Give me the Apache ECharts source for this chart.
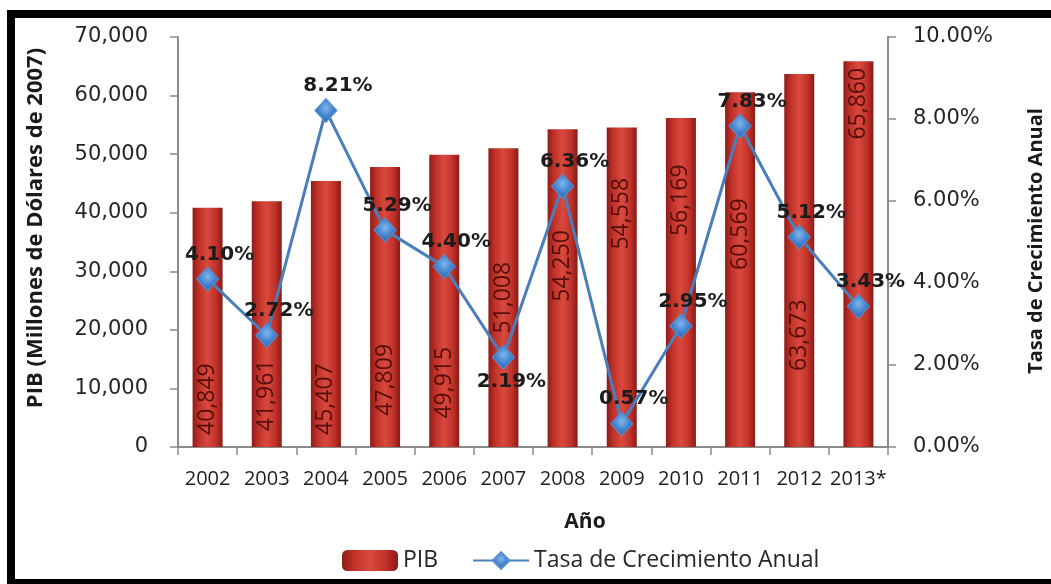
<!DOCTYPE html>
<html>
<head>
<meta charset="utf-8">
<script src="https://cdn.jsdelivr.net/npm/echarts@6/dist/echarts.min.js"></script>
<style>
  html, body { margin: 0; padding: 0; background: #ffffff; }
  #chart { width: 1051px; height: 584px; }
</style>
</head>
<body>
<div id="chart"></div>
<script>
// Años del periodo
const years = ['2002', '2003', '2004', '2005', '2006', '2007', '2008', '2009', '2010', '2011', '2012', '2013*'];
// PIB en millones de dólares de 2007
const pib = [40849, 41961, 45407, 47809, 49915, 51008, 54250, 54558, 56169, 60569, 63673, 65860];
// Tasa de crecimiento anual (%)
const growth = [4.10, 2.72, 8.21, 5.29, 4.40, 2.19, 6.36, 0.57, 2.95, 7.83, 5.12, 3.43];

// Layout: where each PIB label sits inside its bar (% of bar height, from the top)
const pibLabelAnchor = [80, 79, 82, 76, 78, 50, 43, 27, 25, 40, 70, 11];
// Years whose growth label goes under the marker
const growthLabelBelow = ['2007'];

const fmtThousands = v => String(Math.round(v)).replace(/\B(?=(\d{3})+(?!\d))/g, ',');
const fmtPct = v => Number(v).toFixed(2) + '%';

const axisGray = '#8a8a8a';

const barFill = new echarts.graphic.LinearGradient(0, 0, 1, 0, [
  { offset: 0, color: '#8e1c17' },
  { offset: 0.22, color: '#c0322a' },
  { offset: 0.5, color: '#d9493d' },
  { offset: 0.78, color: '#c0322a' },
  { offset: 1, color: '#8a1a15' }
]);

const markerFill = new echarts.graphic.RadialGradient(0.5, 0.4, 0.6, [
  { offset: 0, color: '#7fb6ee' },
  { offset: 0.6, color: '#3f7fcb' },
  { offset: 1, color: '#2d64a8' }
]);

const chart = echarts.init(document.getElementById('chart'), null, { renderer: 'canvas' });

chart.setOption({
  animation: false,
  backgroundColor: '#ffffff',
  grid: { left: 178, right: 163, top: 37, bottom: 137, containLabel: false },
  legend: {
    left: 342,
    top: 549,
    padding: 0,
    itemWidth: 56,
    itemHeight: 21,
    itemGap: 34,
    textStyle: { fontFamily: 'Open Sans', fontSize: 23, color: '#262626' },
    data: ['PIB', 'Tasa de Crecimiento Anual']
  },
  xAxis: {
    type: 'category',
    data: years,
    axisLine: { lineStyle: { color: axisGray, width: 2 } },
    axisTick: { show: true, length: 8, lineStyle: { color: axisGray, width: 1.5 } },
    axisLabel: { margin: 22, fontFamily: 'Open Sans', fontSize: 20, color: '#1f1f1f', interval: 0 },
    splitLine: { show: false }
  },
  yAxis: [
    {
      type: 'value',
      min: 0,
      max: 70000,
      interval: 10000,
      position: 'left',
      axisLine: { show: true, lineStyle: { color: axisGray, width: 2 } },
      axisTick: { show: true, length: 8, lineStyle: { color: axisGray, width: 1.5 } },
      axisLabel: { margin: 30, fontFamily: 'DejaVu Sans', fontSize: 21, color: '#262626', formatter: fmtThousands },
      splitLine: { show: false }
    },
    {
      type: 'value',
      min: 0,
      max: 10,
      interval: 2,
      position: 'right',
      axisLine: { show: true, lineStyle: { color: axisGray, width: 2 } },
      axisTick: { show: true, length: 8, lineStyle: { color: axisGray, width: 1.5 } },
      axisLabel: { margin: 25, fontFamily: 'DejaVu Sans', fontSize: 21, color: '#262626', formatter: fmtPct },
      splitLine: { show: false }
    }
  ],
  series: [
    {
      name: 'PIB',
      type: 'bar',
      yAxisIndex: 0,
      barWidth: 30,
      z: 2,
      itemStyle: { color: barFill },
      label: {
        show: true,
        rotate: 90,
        align: 'center',
        verticalAlign: 'middle',
        fontFamily: 'Open Sans',
        fontWeight: 500,
        fontSize: 23,
        color: '#560e0b',
        formatter: p => fmtThousands(p.value)
      },
      data: pib.map((v, i) => ({
        value: v,
        label: { position: ['50%', pibLabelAnchor[i] + '%'] }
      }))
    },
    {
      name: 'Tasa de Crecimiento Anual',
      type: 'line',
      yAxisIndex: 1,
      z: 3,
      symbol: 'diamond',
      symbolSize: [22, 24],
      lineStyle: { color: '#4a7ebb', width: 3 },
      itemStyle: { color: markerFill, borderColor: '#5b8fd0', borderWidth: 1 },
      label: {
        show: true,
        position: 'top',
        distance: 2,
        offset: [12, 0],
        fontFamily: 'DejaVu Sans',
        fontWeight: 'bold',
        fontSize: 20,
        color: '#1c1c1c',
        formatter: p => fmtPct(p.value)
      },
      data: growth.map((v, i) => growthLabelBelow.includes(years[i])
        ? { value: v, label: { position: 'bottom', offset: [8, 0] } }
        : v)
    }
  ],
  graphic: [
    // black frame: top, left and bottom edges
    { type: 'rect', shape: { x: 7, y: 10, width: 1044, height: 8 }, style: { fill: '#000000' }, silent: true },
    { type: 'rect', shape: { x: 7, y: 10, width: 8, height: 574 }, style: { fill: '#000000' }, silent: true },
    { type: 'rect', shape: { x: 7, y: 579, width: 1044, height: 5 }, style: { fill: '#000000' }, silent: true },
    // axis titles
    {
      type: 'text', x: 36, y: 228, rotation: Math.PI / 2,
      style: { text: 'PIB (Millones de Dólares de 2007)', fontFamily: 'Open Sans', fontWeight: 'bold', fontSize: 22, fill: '#1a1a1a', align: 'center', verticalAlign: 'middle' }
    },
    {
      type: 'text', x: 1036, y: 241, rotation: Math.PI / 2,
      style: { text: 'Tasa de Crecimiento Anual', fontFamily: 'Open Sans', fontWeight: 'bold', fontSize: 20, fill: '#1a1a1a', align: 'center', verticalAlign: 'middle' }
    },
    {
      type: 'text', x: 585, y: 522,
      style: { text: 'Año', fontFamily: 'Open Sans', fontWeight: 'bold', fontSize: 21, fill: '#1a1a1a', align: 'center', verticalAlign: 'middle' }
    }
  ]
});
</script>
</body>
</html>
